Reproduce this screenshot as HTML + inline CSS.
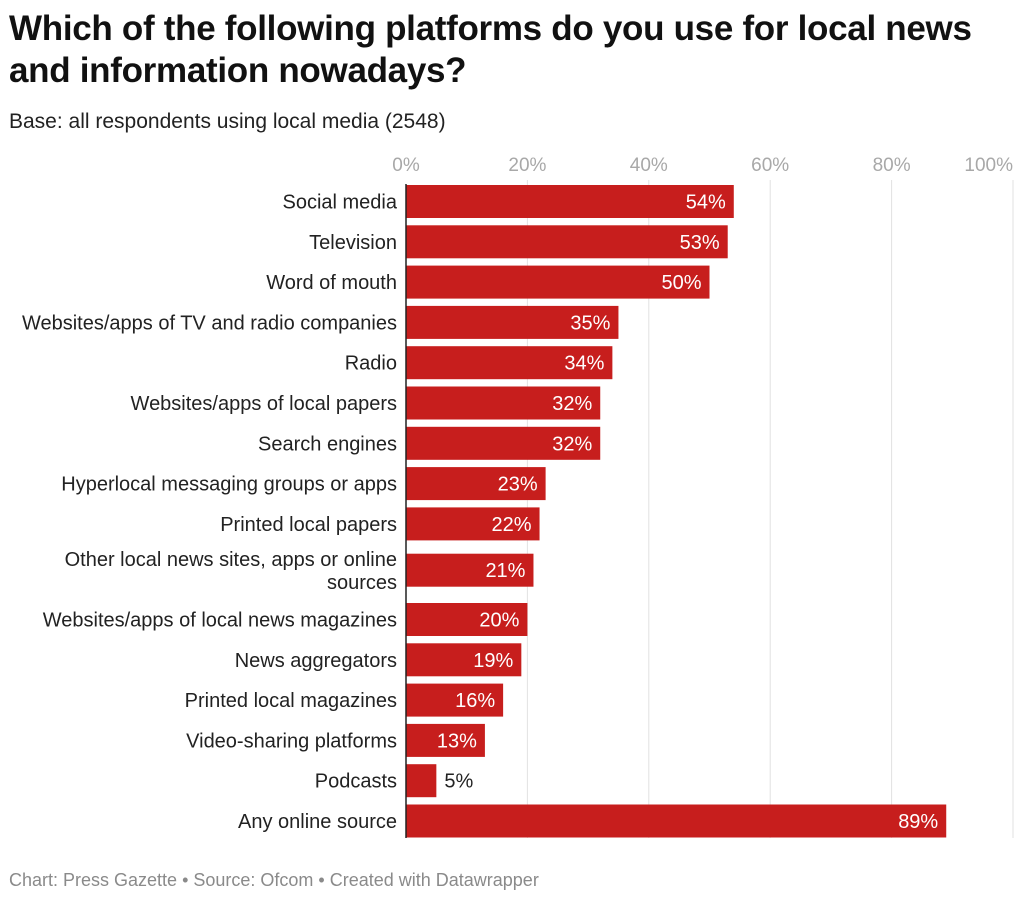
<!DOCTYPE html>
<html><head><meta charset="utf-8"><style>
body{margin:0;width:1024px;height:901px;background:#fff;font-family:"Liberation Sans",sans-serif;overflow:hidden;position:relative}
h1{position:absolute;left:9px;top:8px;margin:0;font-size:35px;line-height:42px;font-weight:bold;color:#111;letter-spacing:-0.3px;white-space:nowrap}
.sub{position:absolute;left:9px;top:110px;font-size:21px;color:#222;white-space:nowrap}
.foot{position:absolute;left:9px;top:870px;font-size:18px;color:#8a8a8a;white-space:nowrap}
</style></head><body>
<h1>Which of the following platforms do you use for local news<br>and information nowadays?</h1>
<div class="sub">Base: all respondents using local media (2548)</div>
<svg id="chart" width="1024" height="901" style="position:absolute;left:0;top:0"></svg>
<div class="foot">Chart: Press Gazette • Source: Ofcom • Created with Datawrapper</div>
<script>
const categories=["Social media","Television","Word of mouth","Websites/apps of TV and radio companies","Radio","Websites/apps of local papers","Search engines","Hyperlocal messaging groups or apps","Printed local papers","Other local news sites, apps or online|sources","Websites/apps of local news magazines","News aggregators","Printed local magazines","Video-sharing platforms","Podcasts","Any online source"];
const values=[54,53,50,35,34,32,32,23,22,21,20,19,16,13,5,89];
const ticks=[0,20,40,60,80,100];
const NS="http://www.w3.org/2000/svg";
const svg=document.getElementById('chart');
const x=v=>406+v*6.07;
const rowTop=i=>185+i*40.3+(i>9?15:(i===9?6:0));
const BH=33;
function mk(t,a){const e=document.createElementNS(NS,t);for(const k in a)e.setAttribute(k,a[k]);svg.appendChild(e);return e;}
ticks.forEach(t=>{
  if(t>0){const g=mk('line',{x1:x(t),x2:x(t),y1:180,y2:838,stroke:'#e2e2e2','stroke-width':1});
  
  }
  const tx=mk('text',{x:t===100?x(t):x(t),y:171,'text-anchor':t===100?'end':'middle','font-size':19,fill:'#a8a8a8','font-family':'Liberation Sans, sans-serif'});
  tx.textContent=t+'%';
  
  
});
categories.forEach((c,i)=>{
  const y=rowTop(i);
  const v=values[i];
  const r=mk('rect',{x:x(0),y:y,width:x(v)-x(0),height:BH,fill:'#c71e1d'});
  
  
  const parts=c.split('|');
  parts.forEach((p,j)=>{
    const ly=y+BH/2+7+(parts.length>1?(j===0?-11:12):0);
    const t=mk('text',{x:397,y:ly,'text-anchor':'end','font-size':20,fill:'#222','font-family':'Liberation Sans, sans-serif'});
    t.textContent=p;
    
    
  });
  const inside=v>10;
  const vt=mk('text',{x:inside?x(v)-8:x(v)+8,y:y+BH/2+7,'text-anchor':inside?'end':'start','font-size':20,fill:inside?'#fff':'#222','font-family':'Liberation Sans, sans-serif'});
  vt.textContent=v+'%';
  
  
});
const ax=mk('line',{x1:406,x2:406,y1:184,y2:838,stroke:'#222','stroke-width':1.5});


</script>
</body></html>
